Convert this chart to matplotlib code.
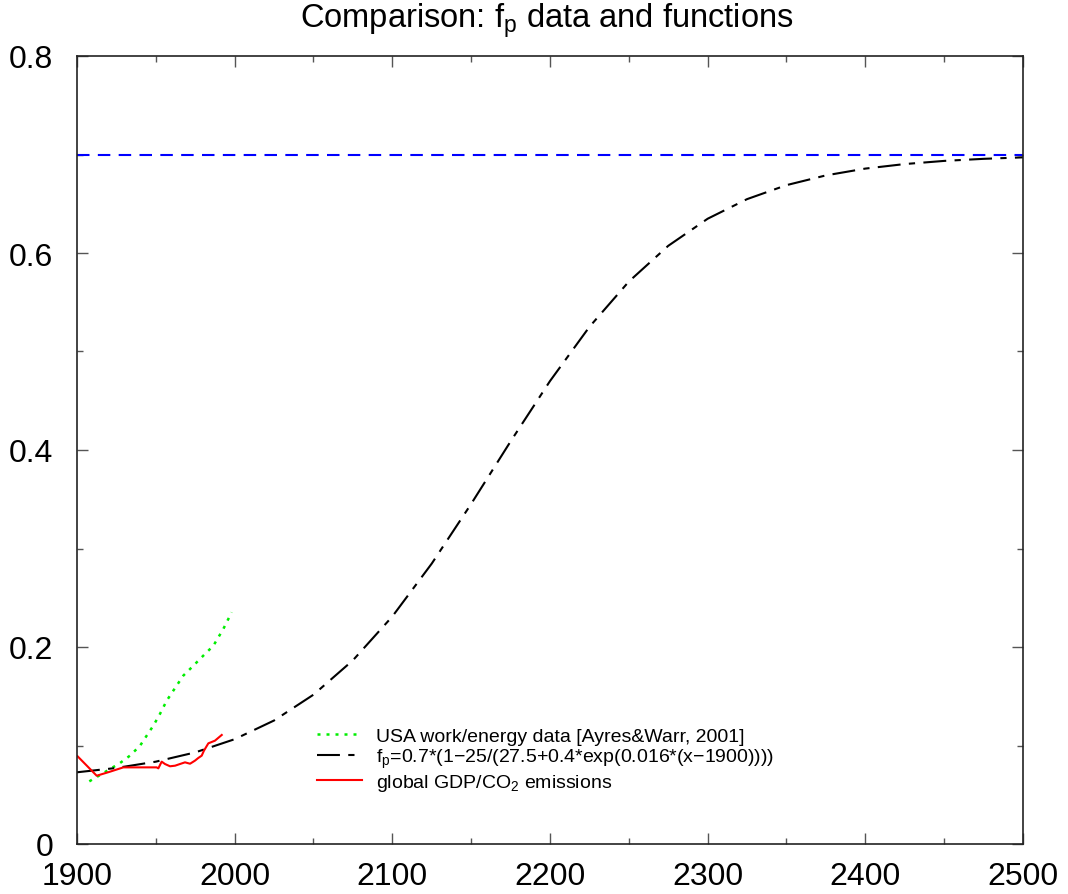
import matplotlib
matplotlib.use("Agg")
from matplotlib import pyplot as plt
from matplotlib.ticker import MultipleLocator

plt.rcParams['font.family'] = ['Liberation Sans', 'DejaVu Sans']
plt.rcParams['mathtext.default'] = 'regular'

# fitted function, sampled every 25 years
fit_years = [1900, 1925, 1950, 1975, 2000, 2025, 2050, 2075, 2100, 2125, 2150, 2175, 2200,
             2225, 2250, 2275, 2300, 2325, 2350, 2375, 2400, 2425, 2450, 2475, 2500]
fit_vals = [0.0728, 0.0772, 0.0836, 0.0930, 0.1064, 0.1254, 0.1516, 0.1865, 0.2310, 0.2847,
            0.3453, 0.4087, 0.4700, 0.5250, 0.5710, 0.6073, 0.6348, 0.6547, 0.6689, 0.6788,
            0.6857, 0.6903, 0.6935, 0.6956, 0.6971]

# USA work/energy data
usa_years = [1907.8, 1914.6, 1920.9, 1927.3, 1933.6, 1940.0, 1944.2, 1948.4, 1952.6, 1956.9,
             1961.1, 1967.4, 1973.8, 1980.1, 1986.5, 1992.8, 1998.1]
usa_vals = [0.0636, 0.0700, 0.0761, 0.0822, 0.0897, 0.0998, 0.1100, 0.1201, 0.1320, 0.1455,
            0.1557, 0.1709, 0.1810, 0.1912, 0.2013, 0.2183, 0.2352]

# global GDP/CO2
gdp_years = [1900.4, 1912.5, 1920.9, 1929.4, 1950.5, 1951.6, 1953.7, 1955.8, 1959.0, 1962.2,
             1965.3, 1968.5, 1971.7, 1974.8, 1976.9, 1979.1, 1980.5, 1983.3, 1987.5, 1991.8]
gdp_vals = [0.0890, 0.0693, 0.0734, 0.0778, 0.0778, 0.0768, 0.0836, 0.0812, 0.0789, 0.0795,
            0.0812, 0.0829, 0.0815, 0.0846, 0.0873, 0.0897, 0.0947, 0.1022, 0.1049, 0.1107]

limit_val = 0.7

fig = plt.figure(figsize=(10.68, 8.95), dpi=100)
ax = fig.add_axes([77/1068, 50/895, 946/1068, 788/895])

ax.axhline(limit_val, color='#0000ff', lw=1.5, dashes=(6, 4))
ax.plot(usa_years, usa_vals, color='#00ee00', lw=1.8, dashes=(1.2, 2.4),
        label='USA work/energy data [Ayres&Warr, 2001]')
ax.plot(fit_years, fit_vals, color='black', lw=1.5, dashes=(11, 4, 3, 4),
        label='$f_p$=0.7*(1\u221225/(27.5+0.4*exp(0.016*(x\u22121900))))')
ax.plot(gdp_years, gdp_vals, color='red', lw=1.5,
        label='global GDP/CO$_2$ emissions')

ax.set_xlim(1900, 2500)
ax.set_ylim(0, 0.8)
ax.xaxis.set_major_locator(MultipleLocator(100))
ax.xaxis.set_minor_locator(MultipleLocator(50))
ax.yaxis.set_minor_locator(MultipleLocator(0.1))
ax.set_yticks([0, 0.2, 0.4, 0.6, 0.8])
ax.set_yticklabels(['0', '0.2', '0.4', '0.6', '0.8'])

ax.tick_params(which='both', direction='in', top=True, right=True, color='#555555', width=1)
ax.tick_params(which='major', length=8, labelsize=23)
ax.tick_params(which='minor', length=4)
ax.tick_params(axis='x', pad=12)
ax.tick_params(axis='y', pad=17)
for sp in ax.spines.values():
    sp.set_linewidth(1.2)
    sp.set_color('#222222')

fig.text(0.512, 0.9687, 'Comparison: $f_p$ data and functions', ha='center', va='baseline',
         fontsize=23.5)

ax.legend(loc='upper left', bbox_to_anchor=(0.2537, 0.148), frameon=False, fontsize=14,
          handlelength=2.3, handletextpad=0.75, labelspacing=0.1, borderpad=0,
          borderaxespad=0)

fig.savefig('out.png', dpi=100)
